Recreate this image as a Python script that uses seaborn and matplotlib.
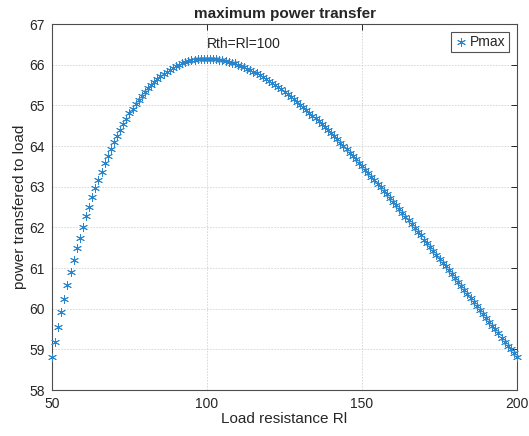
import matplotlib
matplotlib.use("Agg")
import matplotlib.pyplot as plt
import seaborn as sns
import pandas as pd

load_resistance = list(range(50, 201))
power = [
    58.80, 59.18, 59.55, 59.91, 60.25, 60.57, 60.89, 61.19, 61.48, 61.75,
    62.02, 62.27, 62.51, 62.74, 62.96, 63.17, 63.37, 63.57, 63.75, 63.92,
    64.09, 64.25, 64.40, 64.54, 64.67, 64.80, 64.92, 65.03, 65.14, 65.24,
    65.33, 65.42, 65.50, 65.58, 65.65, 65.72, 65.78, 65.83, 65.88, 65.93,
    65.97, 66.00, 66.04, 66.06, 66.09, 66.11, 66.12, 66.13, 66.14, 66.15,
    66.15, 66.15, 66.14, 66.14, 66.12, 66.11, 66.09, 66.07, 66.05, 66.03,
    66.00, 65.97, 65.94, 65.90, 65.87, 65.83, 65.79, 65.74, 65.70, 65.65,
    65.60, 65.55, 65.50, 65.45, 65.39, 65.33, 65.27, 65.21, 65.15, 65.09,
    65.02, 64.96, 64.89, 64.82, 64.75, 64.68, 64.61, 64.54, 64.46, 64.39,
    64.31, 64.24, 64.16, 64.08, 64.00, 63.92, 63.84, 63.75, 63.67, 63.59,
    63.50, 63.42, 63.33, 63.25, 63.16, 63.07, 62.98, 62.90, 62.81, 62.72,
    62.63, 62.54, 62.45, 62.35, 62.26, 62.17, 62.08, 61.98, 61.89, 61.80,
    61.70, 61.61, 61.51, 61.42, 61.33, 61.23, 61.13, 61.04, 60.94, 60.85,
    60.75, 60.65, 60.56, 60.46, 60.36, 60.27, 60.17, 60.07, 59.97, 59.88,
    59.78, 59.68, 59.58, 59.49, 59.39, 59.29, 59.19, 59.09, 59.00, 58.90,
    58.80,
]
x_ticks = [50, 100, 150, 200]
y_ticks = [58, 59, 60, 61, 62, 63, 64, 65, 66, 67]

sns.set_style("white")
plt.rcParams['font.family'] = ['Liberation Sans', 'DejaVu Sans']

df = pd.DataFrame({"Rl": load_resistance, "P": power})

fig = plt.figure(figsize=(5.29, 4.36), dpi=100)
ax = fig.add_axes([52/529, 1 - 390/436, (517 - 52)/529, (390 - 24)/436])

sns.scatterplot(data=df, x="Rl", y="P", marker=(6, 2, 0), s=34,
                color="#2a86cc", linewidth=0.65, label="Pmax", ax=ax,
                zorder=3, clip_on=False)

ax.set_xlim(50, 200)
ax.set_ylim(58, 67)
ax.set_xticks(x_ticks)
ax.set_yticks(y_ticks)
ax.grid(True, color="#d4d4d4", linewidth=0.6, linestyle=(0, (2, 1.5)))
ax.set_axisbelow(True)
ax.tick_params(direction="in", length=4, width=0.7, top=True, right=True,
               labelsize=10, colors="#262626", pad=5)
for sp in ax.spines.values():
    sp.set_color("#4d4d4d")
    sp.set_linewidth(0.8)

ax.set_xlabel("Load resistance Rl", fontsize=11, color="#262626", labelpad=1)
ax.set_ylabel("power transfered to load", fontsize=11, color="#262626", labelpad=2)
ax.set_title("maximum power transfer", fontsize=11, fontweight="bold", pad=4)
ax.text(100, 66.5, "Rth=Rl=100", fontsize=10, va="center", ha="left")

leg = ax.legend(loc="upper right", fontsize=10, frameon=True, fancybox=False,
                edgecolor="#262626", borderpad=0.2, handletextpad=0.2,
                handlelength=1.0, borderaxespad=0.6, markerscale=1.0)
leg.get_frame().set_linewidth(0.8)

fig.savefig("out.png", dpi=100)
